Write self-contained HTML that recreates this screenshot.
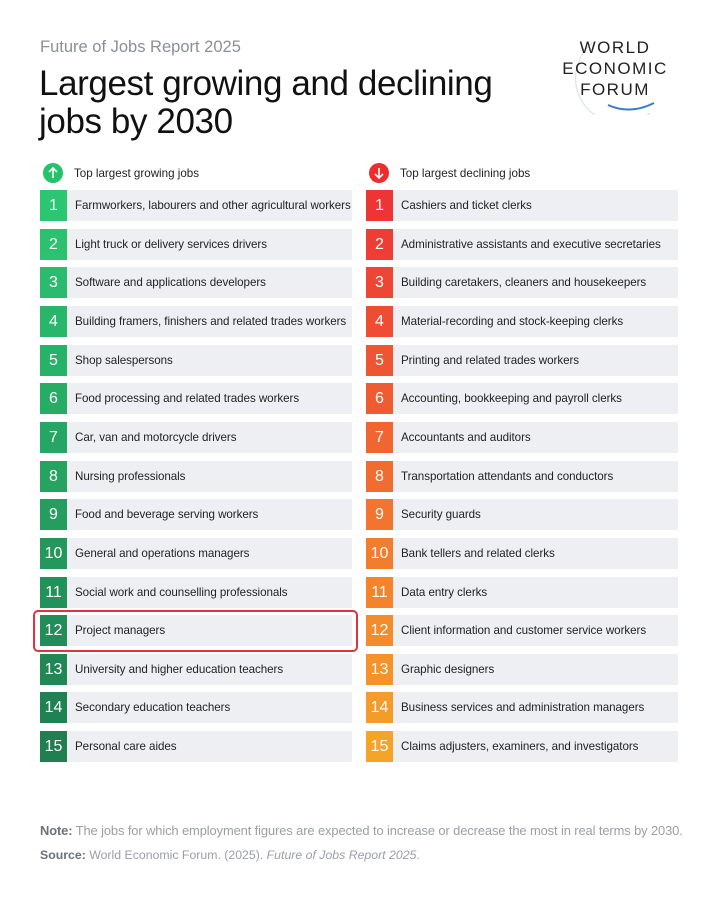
<!DOCTYPE html>
<html><head><meta charset="utf-8"><style>
body{margin:0;width:720px;height:899px;background:#fff;font-family:"Liberation Sans",sans-serif;position:relative;overflow:hidden}
.a{position:absolute}
.row{position:absolute;height:31px;width:312px;background:#eeeff2}
.num{position:absolute;left:0;top:0;width:27px;height:31px;color:#fff;font-size:16px;line-height:31px;text-align:center;opacity:.95}
.lbl{position:absolute;left:35px;top:0;line-height:31px;font-size:11.6px;color:#222;white-space:nowrap;letter-spacing:-0.05px}
</style></head><body>
<div class="a" style="left:40px;top:38px;font-size:16.5px;color:#8a8f99">Future of Jobs Report 2025</div>
<div class="a" style="left:39px;top:65px;font-size:35px;line-height:38px;color:#111;letter-spacing:-0.4px">Largest growing and declining<br>jobs by 2030</div>
<svg class="a" style="left:550px;top:35px" width="135" height="80">
<path d="M42 8 A40 40 0 0 0 100 78" fill="none" stroke="#d8e4ee" stroke-width="1.2"/>
<path d="M58 70 Q80 80 104 68" fill="none" stroke="#3b7dc4" stroke-width="2"/>
<text x="65" y="18" text-anchor="middle" font-size="17" font-family="Liberation Sans" fill="#222" letter-spacing="1.5">WORLD</text>
<text x="65" y="39" text-anchor="middle" font-size="17" font-family="Liberation Sans" fill="#222" letter-spacing="1.5">ECONOMIC</text>
<text x="65" y="60" text-anchor="middle" font-size="17" font-family="Liberation Sans" fill="#222" letter-spacing="1.5">FORUM</text>
</svg>
<svg class="a" style="left:43px;top:163px" width="20" height="20"><circle cx="10" cy="10" r="10" fill="#22c36b"/><path d="M10 15V5M6 9l4-4 4 4" stroke="#fff" stroke-width="1.6" fill="none"/></svg>
<div class="a" style="left:74px;top:167px;font-size:11.6px;color:#222">Top largest growing jobs</div>
<svg class="a" style="left:369px;top:163px" width="20" height="20"><circle cx="10" cy="10" r="10" fill="#ee2c2c"/><path d="M10 5v10M6 11l4 4 4-4" stroke="#fff" stroke-width="1.6" fill="none"/></svg>
<div class="a" style="left:400px;top:167px;font-size:11.6px;color:#222">Top largest declining jobs</div>
<div id="rows"></div>
<div class="a" style="left:33px;top:610px;width:321px;height:38px;border:2px solid #d9363e;border-radius:5px"></div>
<div class="a" style="left:40px;top:823px;font-size:12.9px;color:#9a9ea6;white-space:nowrap;letter-spacing:-0.1px"><b style="color:#6d7179">Note:</b> The jobs for which employment figures are expected to increase or decrease the most in real terms by 2030.</div>
<div class="a" style="left:40px;top:848px;font-size:12.3px;color:#9a9ea6"><b style="color:#6d7179">Source:</b> World Economic Forum. (2025). <i>Future of Jobs Report 2025</i>.</div>
<script>
var L=["Farmworkers, labourers and other agricultural workers","Light truck or delivery services drivers","Software and applications developers","Building framers, finishers and related trades workers","Shop salespersons","Food processing and related trades workers","Car, van and motorcycle drivers","Nursing professionals","Food and beverage serving workers","General and operations managers","Social work and counselling professionals","Project managers","University and higher education teachers","Secondary education teachers","Personal care aides"];
var R=["Cashiers and ticket clerks","Administrative assistants and executive secretaries","Building caretakers, cleaners and housekeepers","Material-recording and stock-keeping clerks","Printing and related trades workers","Accounting, bookkeeping and payroll clerks","Accountants and auditors","Transportation attendants and conductors","Security guards","Bank tellers and related clerks","Data entry clerks","Client information and customer service workers","Graphic designers","Business services and administration managers","Claims adjusters, examiners, and investigators"];
function mix(a,b,t){return "rgb("+a.map((v,i)=>Math.round(v+(b[i]-v)*t)).join(",")+")"}
var h="";
for(var i=0;i<15;i++){var y=190+i*38.65,t=i/14;
h+='<div class="row" style="left:40px;top:'+y+'px"><div class="num" style="background:'+mix([34,196,108],[21,120,72],t)+'">'+(i+1)+'</div><div class="lbl">'+L[i]+'</div></div>';
h+='<div class="row" style="left:366px;top:'+y+'px"><div class="num" style="background:'+mix([238,44,44],[246,160,30],t)+'">'+(i+1)+'</div><div class="lbl">'+R[i]+'</div></div>';}
document.getElementById("rows").innerHTML=h;
</script>
</body></html>
